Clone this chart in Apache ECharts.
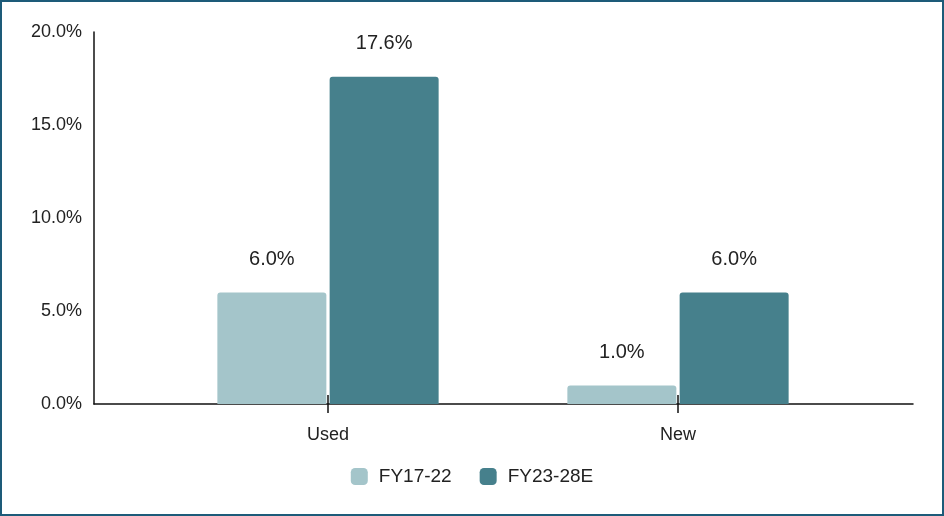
<!DOCTYPE html>
<html><head><meta charset="utf-8">
<script src="https://cdn.jsdelivr.net/npm/echarts@6/dist/echarts.min.js"></script>
<style>html,body{margin:0;padding:0;background:#fff}#c{width:944px;height:516px}</style>
</head><body><div id="c"></div>
<script>
const categories = ['Used', 'New'];
const seriesNames = ['FY17-22', 'FY23-28E'];
const fy1722 = [6.0, 1.0];
const fy2328 = [17.6, 6.0];
const yTicks = [0, 5, 10, 15, 20];

const chart = echarts.init(document.getElementById('c'));
const font = '"Liberation Sans", Arial, sans-serif';
const labelCfg = {
  show: true, position: 'top', distance: 23,
  fontFamily: font, fontSize: 20, color: '#222',
  formatter: p => p.value.toFixed(1) + '%'
};
chart.setOption({
  animation: false,
  graphic: [{ type: 'rect', shape: { x: 1, y: 1, width: 942, height: 514 },
    style: { fill: 'none', stroke: '#1d5b79', lineWidth: 2 }, z: 100 }],
  legend: {
    data: seriesNames, top: 462, left: 'center',
    itemWidth: 17, itemHeight: 17, itemGap: 28,
    icon: 'roundRect',
    textStyle: { fontFamily: font, fontSize: 19, color: '#222', padding: [0, 0, 0, 6] }
  },
  grid: [
    { left: 94, right: 31, top: 32, bottom: 112 },
    { left: 153, width: 700, top: 32, bottom: 112 }
  ],
  xAxis: [
    { type: 'category', gridIndex: 0, data: [''], axisLine: { lineStyle: { color: '#111', width: 1.5 } },
      axisTick: { show: false }, axisLabel: { show: false } },
    { type: 'category', gridIndex: 1, position: 'bottom', data: categories,
      axisLine: { show: false },
      axisTick: { show: true, alignWithLabel: true, length: 9, lineStyle: { color: '#111', width: 1.5 } },
      axisLabel: { fontFamily: font, fontSize: 18, color: '#222', margin: 22 } },
    { type: 'category', gridIndex: 1, position: 'bottom', data: categories,
      axisLine: { show: false },
      axisTick: { show: true, inside: true, alignWithLabel: true, length: 9, lineStyle: { color: '#111', width: 1.5 } },
      axisLabel: { show: false } }
  ],
  yAxis: [
    { type: 'value', gridIndex: 0, min: yTicks[0], max: yTicks[yTicks.length - 1], interval: 5,
      axisLine: { show: true, lineStyle: { color: '#111', width: 1.5 } },
      axisTick: { show: false }, splitLine: { show: false },
      axisLabel: { fontFamily: font, fontSize: 18, color: '#222', margin: 12,
        formatter: v => v.toFixed(1) + '%' } },
    { type: 'value', gridIndex: 1, min: 0, max: 20, show: false, splitLine: { show: false } }
  ],
  series: [
    { name: seriesNames[0], type: 'bar', xAxisIndex: 1, yAxisIndex: 1, data: fy1722,
      barWidth: 109, barGap: '3%', itemStyle: { color: '#a4c5ca', borderRadius: [3, 3, 0, 0] },
      label: labelCfg },
    { name: seriesNames[1], type: 'bar', xAxisIndex: 1, yAxisIndex: 1, data: fy2328,
      barWidth: 109, itemStyle: { color: '#46808c', borderRadius: [3, 3, 0, 0] },
      label: labelCfg }
  ]
});
</script></body></html>
